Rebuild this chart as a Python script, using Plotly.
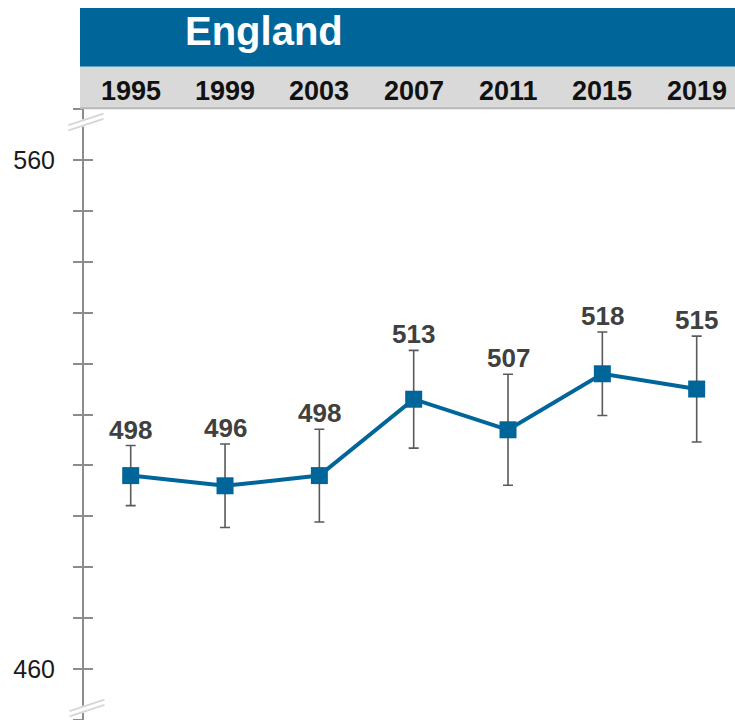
import plotly.graph_objects as go

# Mean scores for England by assessment year, with 95% confidence half-widths
years = [1995, 1999, 2003, 2007, 2011, 2015, 2019]
scores = [498, 496, 498, 513, 507, 518, 515]
ci_half = [5.9, 8.2, 9.1, 9.6, 10.9, 8.2, 10.4]
region = "England"

tick_values = list(range(450, 571, 10))
tick_text = ["" if v not in (460, 560) else str(v) for v in tick_values]

W, H = 735, 720
L, T = 84, 109
PW, PH = W - L, H - T

BLUE = "#00669a"
AXIS_GREY = "#8c8c8c"
FONT = "Liberation Sans, Arial"


def px(x):
    return (x - L) / PW


def py(y):
    return (H - y) / PH


fig = go.Figure()

fig.add_trace(go.Scatter(
    x=years, y=scores,
    mode="lines+markers",
    line=dict(color=BLUE, width=4),
    marker=dict(symbol="square", size=17, color=BLUE),
    error_y=dict(type="data", array=ci_half, color="#5a5a5a", thickness=1.6, width=5),
    hoverinfo="x+y",
    showlegend=False,
))

# invisible trace so the inner tick axis is laid out
fig.add_trace(go.Scatter(x=[years[0]], y=[scores[0]], yaxis="y2", mode="markers",
                         marker=dict(opacity=0), showlegend=False, hoverinfo="skip"))

# value labels above each upper whisker
for yr, s, e in zip(years, scores, ci_half):
    fig.add_annotation(x=yr, y=s + e, text=f"<b>{s}</b>", showarrow=False,
                       xanchor="center", yanchor="bottom", yshift=-1,
                       font=dict(family=FONT, size=26, color="#404040"))

shapes = []
# header band with region name
shapes.append(dict(type="rect", xref="paper", yref="paper",
                   x0=px(80), x1=px(W + 2), y0=py(66.7), y1=py(8),
                   fillcolor=BLUE, line=dict(width=0), layer="below"))
# year band
shapes.append(dict(type="rect", xref="paper", yref="paper",
                   x0=px(80), x1=px(W + 2), y0=py(108), y1=py(66.7),
                   fillcolor="#d9d9d9", line=dict(width=0), layer="below"))
shapes.append(dict(type="line", xref="paper", yref="paper",
                   x0=px(80), x1=px(W + 2), y0=py(108.3), y1=py(108.3),
                   line=dict(color="#b8b8b8", width=2)))


def axis_break(cx, cy):
    dx, dy = 17.5, -5.8
    out = [dict(type="line", xref="paper", yref="paper",
                x0=px(cx - dx), y0=py(cy - dy), x1=px(cx + dx), y1=py(cy + dy),
                line=dict(color="white", width=7), layer="above")]
    for off in (-2.6, 2.6):
        out.append(dict(type="line", xref="paper", yref="paper",
                        x0=px(cx - dx), y0=py(cy - dy + off), x1=px(cx + dx), y1=py(cy + dy + off),
                        line=dict(color="#d6d6d6", width=1.8), layer="above"))
    return out


shapes += axis_break(86, 122)
shapes += axis_break(87, 708)

annotations = [dict(x=px(263.5), y=py(31), xref="paper", yref="paper", text=f"<b>{region}</b>",
                    showarrow=False, xanchor="center", yanchor="middle",
                    font=dict(family=FONT, size=40, color="white"))]
for yr in years:
    annotations.append(dict(x=yr, y=py(90.5), xref="x", yref="paper", text=f"<b>{yr}</b>",
                            showarrow=False, xanchor="center", yanchor="middle",
                            font=dict(family=FONT, size=27, color="#111111")))

px_per_year = 94.33 / 4
x0 = 1995 - (130.7 - L) / px_per_year
x1 = x0 + PW / px_per_year

fig.update_layout(
    width=W, height=H,
    margin=dict(l=L, r=0, t=T, b=0, pad=0),
    paper_bgcolor="white", plot_bgcolor="white",
    shapes=shapes,
    xaxis=dict(range=[x0, x1], showgrid=False, zeroline=False, showline=False,
               showticklabels=False, ticks="", fixedrange=True),
    yaxis=dict(range=[450, 570], showgrid=False, zeroline=False,
               showline=True, linecolor=AXIS_GREY, linewidth=2,
               tickvals=tick_values, ticktext=tick_text,
               ticks="outside", ticklen=9, tickwidth=1.8, tickcolor=AXIS_GREY,
               ticklabelstandoff=13,
               tickfont=dict(family=FONT, size=25, color="#1a1a1a")),
    yaxis2=dict(range=[450, 570], overlaying="y", side="left", anchor="x",
                showgrid=False, zeroline=False, showline=False,
                tickvals=tick_values, showticklabels=False,
                ticks="inside", ticklen=9, tickwidth=1.8, tickcolor=AXIS_GREY),
    showlegend=False,
)
for a in annotations:
    fig.add_annotation(**a)

fig.write_html("out.html")
